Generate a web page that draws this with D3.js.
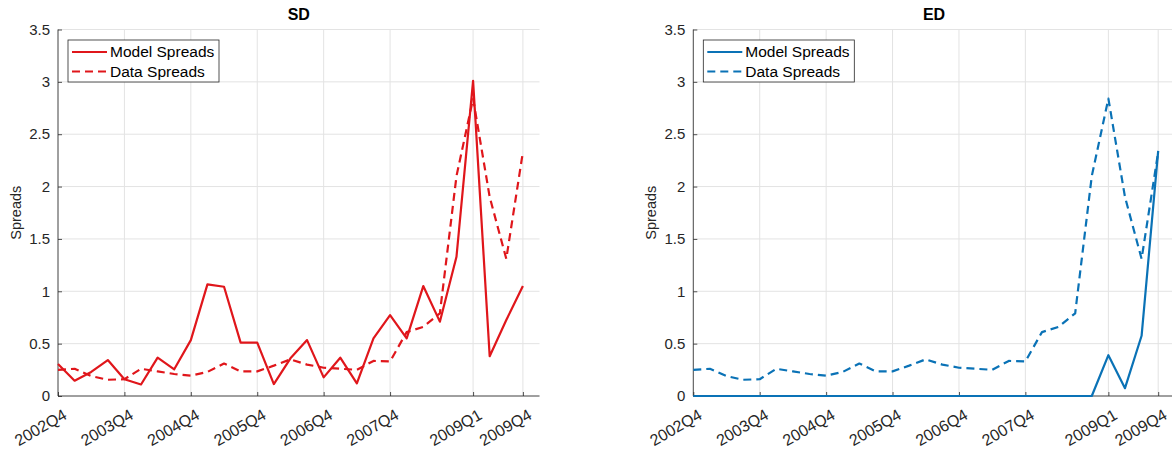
<!DOCTYPE html>
<html>
<head>
<meta charset="utf-8">
<script src="https://cdn.jsdelivr.net/npm/d3@7"></script>
<style>
  html, body { margin: 0; padding: 0; background: #fff; }
  svg { display: block; font-family: "Liberation Sans", Arial, Helvetica, sans-serif; }
</style>
</head>
<body>
<svg id="chart" width="1172" height="451"></svg>
<script>
// Quarterly spreads, 2002Q4 .. 2009Q4 (29 quarters)
const quarters = d3.range(29);
const tickIndex = [0, 4, 8, 12, 16, 20, 25, 28];
const tickLabels = ["2002Q4", "2003Q4", "2004Q4", "2005Q4", "2006Q4", "2007Q4", "2009Q1", "2009Q4"];
const yTicks = [0, 0.5, 1, 1.5, 2, 2.5, 3, 3.5];

const dataSpreads = [0.25, 0.26, 0.19, 0.155, 0.16, 0.26, 0.235, 0.21, 0.195, 0.23,
                     0.31, 0.235, 0.235, 0.29, 0.35, 0.30, 0.27, 0.26, 0.25, 0.335,
                     0.33, 0.61, 0.66, 0.79, 2.1, 2.84, 1.9, 1.31, 2.33];
const modelSD = [0.305, 0.146, 0.23, 0.343, 0.16, 0.11, 0.366, 0.255, 0.534, 1.066,
                 1.043, 0.51, 0.51, 0.114, 0.36, 0.534, 0.178, 0.366, 0.121, 0.55,
                 0.773, 0.55, 1.05, 0.71, 1.33, 3.01, 0.38, 0.725, 1.05];
const modelED = [0, 0, 0, 0, 0, 0, 0, 0, 0, 0,
                 0, 0, 0, 0, 0, 0, 0, 0, 0, 0,
                 0, 0, 0, 0, 0, 0.39, 0.075, 0.575, 2.34];

const panels = [
  { title: "SD", model: modelSD, data: dataSpreads, color: "#e0161b", left: 58 },
  { title: "ED", model: modelED, data: dataSpreads, color: "#0a72b6", left: 693.3 }
];

const svg = d3.select("#chart");
const plotW = 481.5, plotTop = 29.5, plotBottom = 396;
const axisColor = "#262626", gridColor = "#e3e3e3";
const dashes = "8,5";

panels.forEach(p => {
  const x = d3.scaleLinear().domain([0, 29]).range([p.left, p.left + plotW]);
  const y = d3.scaleLinear().domain([0, 3.5]).range([plotBottom, plotTop]);
  const g = svg.append("g");

  // grid
  g.selectAll(".hg").data(yTicks).join("line")
    .attr("x1", x(0)).attr("x2", x(29))
    .attr("y1", d => y(d)).attr("y2", d => y(d))
    .attr("stroke", gridColor).attr("stroke-width", 1);
  g.selectAll(".vg").data(tickIndex).join("line")
    .attr("x1", d => x(d)).attr("x2", d => x(d))
    .attr("y1", y(0)).attr("y2", y(3.5))
    .attr("stroke", gridColor).attr("stroke-width", 1);

  // axes (inward ticks)
  const yAxis = d3.axisRight(y).tickValues(yTicks).tickSize(4).tickFormat("");
  g.append("g").attr("transform", `translate(${x(0)},0)`).call(yAxis)
    .call(a => a.selectAll("line,path").attr("stroke", axisColor).attr("stroke-width", 0.8))
    .call(a => a.select(".domain").attr("d", `M0,${y(0)}V${y(3.5)}`));
  const xAxis = d3.axisTop(x).tickValues(tickIndex).tickSize(4).tickFormat("");
  g.append("g").attr("transform", `translate(0,${y(0)})`).call(xAxis)
    .call(a => a.selectAll("line,path").attr("stroke", axisColor).attr("stroke-width", 0.8))
    .call(a => a.select(".domain").attr("d", `M${x(0)},0H${x(29)}`));

  // y tick labels
  g.selectAll(".yl").data(yTicks).join("text")
    .attr("x", x(0) - 8).attr("y", d => y(d)).attr("dy", "0.35em")
    .attr("text-anchor", "end").attr("font-size", 15).attr("fill", axisColor)
    .text(d => d3.format("")(d));

  // x tick labels, rotated
  g.selectAll(".xl").data(tickIndex).join("text")
    .attr("transform", d => `translate(${x(d) + 10},${y(0) + 22}) rotate(-30)`)
    .attr("text-anchor", "end").attr("font-size", 16).attr("fill", axisColor)
    .text((d, i) => tickLabels[i]);

  // y label
  g.append("text")
    .attr("transform", `translate(${x(0) - 37},${(plotTop + plotBottom) / 2}) rotate(-90)`)
    .attr("text-anchor", "middle").attr("font-size", 14.5).attr("fill", axisColor)
    .text("Spreads");

  // title
  g.append("text")
    .attr("x", x(0) + plotW / 2).attr("y", 20)
    .attr("text-anchor", "middle").attr("font-size", 16).attr("font-weight", "bold")
    .attr("fill", "#000").text(p.title);

  // series
  const line = d3.line().x((d, i) => x(quarters[i])).y(d => y(d));
  g.append("path").datum(p.data).attr("d", line)
    .attr("fill", "none").attr("stroke", p.color).attr("stroke-width", 2.2)
    .attr("stroke-dasharray", dashes).attr("stroke-linejoin", "round");
  g.append("path").datum(p.model).attr("d", line)
    .attr("fill", "none").attr("stroke", p.color).attr("stroke-width", 2.2)
    .attr("stroke-linejoin", "round");

  // legend
  const lx = x(0) + 10, ly = 40;
  const lg = g.append("g");
  lg.append("rect").attr("x", lx).attr("y", ly).attr("width", 151).attr("height", 42)
    .attr("fill", "#fff").attr("stroke", axisColor).attr("stroke-width", 0.8);
  const entries = [["Model Spreads", null], ["Data Spreads", dashes]];
  entries.forEach((e, i) => {
    const yy = ly + 12 + i * 19.5;
    lg.append("line").attr("x1", lx + 4).attr("x2", lx + 39).attr("y1", yy).attr("y2", yy)
      .attr("stroke", p.color).attr("stroke-width", 2.2)
      .attr("stroke-dasharray", e[1]);
    lg.append("text").attr("x", lx + 42).attr("y", yy).attr("dy", "0.35em")
      .attr("font-size", 15.5).attr("fill", "#000").text(e[0]);
  });
});
</script>
</body>
</html>
